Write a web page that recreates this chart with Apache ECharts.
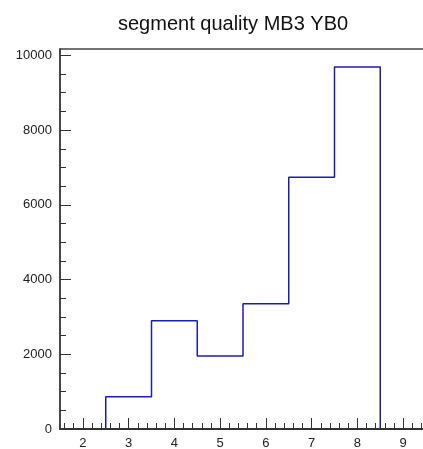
<!DOCTYPE html>
<html>
<head>
<meta charset="utf-8">
<script src="https://cdn.jsdelivr.net/npm/echarts@6/dist/echarts.min.js"></script>
<style>
  html, body { margin: 0; padding: 0; background: #ffffff; }
  #chart { width: 423px; height: 449px; }
</style>
</head>
<body>
<div id="chart"></div>
<script>
// Histogram: bin edges and entries per bin
const binEdges = [1.5, 2.5, 3.5, 4.5, 5.5, 6.5, 7.5, 8.5, 9.5];
const binCounts = [0, 865, 2900, 1955, 3350, 6735, 9690, 0];

// Axis tick labels
const xMajorTicks = [2, 3, 4, 5, 6, 7, 8, 9];
const yMajorTicks = [0, 2000, 4000, 6000, 8000, 10000];

const titleText = 'segment quality MB3 YB0';

const X_MIN = 1.5, X_MAX = 9.5;
const Y_MIN = 0, Y_MAX = 10170;

// Minor ticks: every 0.2 on x, every 500 on y
const xMinorTicks = [];
for (let i = 16; i <= 94; i += 2) {
  if (i % 10 !== 0) xMinorTicks.push(i / 10);
}
const yMinorTicks = [];
for (let v = 500; v <= 10000; v += 500) {
  if (v % 2000 !== 0) yMinorTicks.push(v);
}

// Step outline: one point at each bin's left edge, closed at the last edge
const outline = binCounts.map((c, i) => [binEdges[i], c]);
outline.push([binEdges[binEdges.length - 1], 0]);

const axisColor = '#333333';
const plainNumber = v => String(v);
const labelStyle = { fontSize: 13, color: '#222222', fontFamily: 'Liberation Sans, Arial, sans-serif', formatter: plainNumber };

const chart = echarts.init(document.getElementById('chart'), null, { renderer: 'canvas' });
chart.setOption({
  animation: false,
  backgroundColor: '#ffffff',
  title: {
    text: titleText,
    left: 113,
    top: 9,
    textStyle: { fontSize: 20, fontWeight: 'normal', color: '#111111', fontFamily: 'Liberation Sans, Arial, sans-serif' }
  },
  grid: {
    left: 60, top: 49, width: 366, height: 380,
    outerBoundsMode: 'none',
    containLabel: false,
    show: true, borderColor: '#444444', borderWidth: 1.3, backgroundColor: 'transparent'
  },
  xAxis: [
    {
      type: 'value', min: X_MIN, max: X_MAX, position: 'bottom', offset: 0, z: 5,
      axisLine: { show: true, onZero: false, lineStyle: { color: axisColor, width: 2 } },
      axisTick: { show: true, inside: true, length: 11, customValues: xMajorTicks, lineStyle: { color: axisColor } },
      axisLabel: Object.assign({ customValues: xMajorTicks, margin: 8 }, labelStyle),
      splitLine: { show: false }
    },
    {
      type: 'value', min: X_MIN, max: X_MAX, position: 'bottom', offset: 0, z: 5,
      axisLine: { show: false },
      axisTick: { show: true, inside: true, length: 6, customValues: xMinorTicks, lineStyle: { color: axisColor } },
      axisLabel: { show: false },
      splitLine: { show: false }
    }
  ],
  yAxis: [
    {
      type: 'value', min: Y_MIN, max: Y_MAX, position: 'left', offset: 0, z: 5,
      axisLine: { show: true, onZero: false, lineStyle: { color: axisColor, width: 1.5 } },
      axisTick: { show: true, inside: true, length: 11, customValues: yMajorTicks, lineStyle: { color: axisColor } },
      axisLabel: Object.assign({ customValues: yMajorTicks, margin: 8 }, labelStyle),
      splitLine: { show: false }
    },
    {
      type: 'value', min: Y_MIN, max: Y_MAX, position: 'left', offset: 0, z: 5,
      axisLine: { show: false },
      axisTick: { show: true, inside: true, length: 6, customValues: yMinorTicks, lineStyle: { color: axisColor } },
      axisLabel: { show: false },
      splitLine: { show: false }
    }
  ],
  series: [
    {
      type: 'line',
      xAxisIndex: 0,
      yAxisIndex: 0,
      step: 'end',
      data: outline,
      symbol: 'none',
      lineStyle: { color: '#1c1cb4', width: 1.5 },
      clip: true
    }
  ]
});
</script>
</body>
</html>
